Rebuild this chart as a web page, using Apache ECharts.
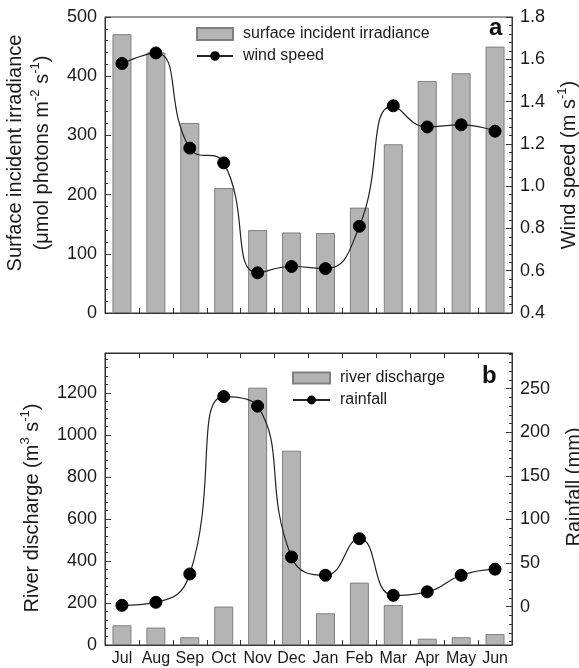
<!DOCTYPE html>
<html>
<head>
<meta charset="utf-8">
<script src="https://cdn.jsdelivr.net/npm/echarts@6/dist/echarts.min.js"></script>
<style>
html,body{margin:0;padding:0;background:#fff;}
#chart{width:579px;height:668px;}
</style>
</head>
<body>
<div id="chart"></div>
<script>
// ---------- data ----------
var months = ['Jul','Aug','Sep','Oct','Nov','Dec','Jan','Feb','Mar','Apr','May','Jun'];
var irradiance = [471, 440, 321, 211, 140, 136, 135, 178, 285, 392, 405, 450];
var windSpeed = [1.58, 1.63, 1.18, 1.11, 0.59, 0.62, 0.61, 0.81, 1.38, 1.28, 1.29, 1.26];
var discharge = [94, 83, 37, 183, 1225, 925, 151, 297, 190, 30, 37, 52];
var rainfall = [1.5, 5, 37.5, 241, 230, 57, 36, 78, 13, 17, 36, 43];

// ---------- tick labels ----------
var irrTicks = [0, 100, 200, 300, 400, 500];
var windTicks = [0.4, 0.6, 0.8, 1.0, 1.2, 1.4, 1.6, 1.8];
var dischargeTicks = [0, 200, 400, 600, 800, 1000, 1200];
var rainTicks = [0, 50, 100, 150, 200, 250];

function steps(a, b, s) {
  var out = [];
  for (var v = a; v <= b + 1e-9; v += s) out.push(Math.round(v * 1000) / 1000);
  return out;
}

var FONT = 'Liberation Sans, Arial, sans-serif';
var TXT = '#1a1a1a';
var LINE = '#333';
var BAR_FILL = '#b4b4b4';
var BAR_EDGE = '#7f7f7f';

var supStyle = { fontSize: 13, fontFamily: FONT, color: TXT, verticalAlign: 'top', padding: [0, 0, 8, 0] };

function nameStyle(pad) {
  return {
    fontSize: 20, fontFamily: FONT, color: TXT, lineHeight: 27, padding: pad,
    rich: { b: { fontSize: 20, fontFamily: FONT, color: TXT, lineHeight: 27 }, sup: supStyle }
  };
}

function mainY(grid, pos, min, max, ticks, gap, name, nStyle, fmt) {
  return {
    type: 'value', gridIndex: grid, position: pos, min: min, max: max,
    axisLine: { show: true, lineStyle: { color: LINE, width: 1 } },
    axisTick: { show: true, inside: true, length: 6, customValues: ticks, lineStyle: { color: LINE } },
    axisLabel: { show: true, customValues: ticks, margin: 8, fontSize: 18, fontFamily: FONT, color: TXT,
      formatter: fmt || function (v) { return String(v); } },
    splitLine: { show: false },
    name: name, nameLocation: 'middle', nameRotate: 90, nameGap: gap,
    nameTextStyle: nStyle
  };
}
function minorY(grid, pos, min, max, minors) {
  return {
    type: 'value', gridIndex: grid, position: pos, min: min, max: max,
    axisLine: { show: false },
    axisTick: { show: true, inside: true, length: 3, customValues: minors, lineStyle: { color: LINE } },
    axisLabel: { show: false },
    splitLine: { show: false }
  };
}
function catX(grid, pos, showLabel) {
  return {
    type: 'category', gridIndex: grid, position: pos, data: months, boundaryGap: true,
    axisLine: { show: true, onZero: false, lineStyle: { color: LINE } },
    axisTick: { show: true, inside: true, length: 5, alignWithLabel: false, lineStyle: { color: LINE } },
    axisLabel: { show: showLabel, interval: 0, margin: 6, fontSize: 16, fontFamily: FONT, color: TXT },
    splitLine: { show: false }
  };
}

var chart = echarts.init(document.getElementById('chart'), null, { renderer: 'canvas' });

var option = {
  backgroundColor: '#fff',
  animation: false,
  grid: [
    { left: 105, top: 17, width: 407, height: 296, show: true, borderColor: LINE, borderWidth: 1,
      backgroundColor: 'transparent', containLabel: false, outerBoundsMode: 'none' },
    { left: 105, top: 353, width: 407, height: 292, show: true, borderColor: LINE, borderWidth: 1,
      backgroundColor: 'transparent', containLabel: false, outerBoundsMode: 'none' }
  ],
  xAxis: [
    catX(0, 'bottom', false),
    catX(1, 'bottom', true),
    catX(1, 'top', false)
  ],
  yAxis: [
    mainY(0, 'left', 0, 500, irrTicks, 43,
      '{b|Surface incident irradiance}\n{b|(μmol photons m}{sup|-2}{b| s}{sup|-1}{b|)}', nameStyle([0, 0, 0, 24])),
    mainY(0, 'right', 0.4, 1.8, windTicks, 41,
      '{b|Wind speed (m s}{sup|-1}{b|)}', nameStyle([0, 0, 0, 0]), function (v) { return v.toFixed(1); }),
    minorY(0, 'left', 0, 500, steps(0, 500, 20)),
    minorY(0, 'right', 0.4, 1.8, steps(0.4, 1.8, 0.04)),
    mainY(1, 'left', 0, 1390, dischargeTicks, 57,
      '{b|River discharge (m}{sup|3}{b| s}{sup|-1}{b|)}', nameStyle([0, 18, 0, 0])),
    mainY(1, 'right', -44, 291, rainTicks, 37,
      '{b|Rainfall (mm)}', nameStyle([0, 0, 0, 24])),
    minorY(1, 'left', 0, 1390, steps(0, 1360, 40)),
    minorY(1, 'right', -44, 291, steps(-40, 290, 10))
  ],
  legend: [
    {
      left: 196, top: 26, orient: 'vertical', padding: 0, itemGap: 6,
      itemWidth: 36, itemHeight: 12,
      textStyle: { fontSize: 16, fontFamily: FONT, color: TXT, padding: [0, 0, 0, 5] },
      data: [{ name: 'surface incident irradiance', icon: 'rect' }, { name: 'wind speed' }]
    },
    {
      left: 292, top: 370, orient: 'vertical', padding: 0, itemGap: 6,
      itemWidth: 37, itemHeight: 11,
      textStyle: { fontSize: 16, fontFamily: FONT, color: TXT, padding: [0, 0, 0, 5] },
      data: [{ name: 'river discharge', icon: 'rect' }, { name: 'rainfall' }]
    }
  ],
  series: [
    {
      name: 'surface incident irradiance', type: 'bar', xAxisIndex: 0, yAxisIndex: 0,
      data: irradiance, barWidth: 19,
      itemStyle: { color: BAR_FILL, borderColor: BAR_EDGE, borderWidth: 1 }
    },
    {
      name: 'wind speed', type: 'line', xAxisIndex: 0, yAxisIndex: 1,
      data: windSpeed, smooth: 0.5, symbol: 'circle', symbolSize: 12,
      lineStyle: { color: '#222', width: 1.2 },
      itemStyle: { color: '#000', borderColor: '#000' }
    },
    {
      name: 'river discharge', type: 'bar', xAxisIndex: 1, yAxisIndex: 4,
      data: discharge, barWidth: 19,
      itemStyle: { color: BAR_FILL, borderColor: BAR_EDGE, borderWidth: 1 }
    },
    {
      name: 'rainfall', type: 'line', xAxisIndex: 1, yAxisIndex: 5,
      data: rainfall, smooth: 0.5, symbol: 'circle', symbolSize: 12,
      lineStyle: { color: '#222', width: 1.2 },
      itemStyle: { color: '#000', borderColor: '#000' }
    }
  ],
  graphic: [
    { type: 'text', left: 489, top: 16, style: { text: 'a', fontSize: 24, fontWeight: 'bold', fontFamily: FONT, fill: '#111' } },
    { type: 'text', left: 482, top: 364, style: { text: 'b', fontSize: 24, fontWeight: 'bold', fontFamily: FONT, fill: '#111' } }
  ]
};
chart.setOption(option);
</script>
</body>
</html>
